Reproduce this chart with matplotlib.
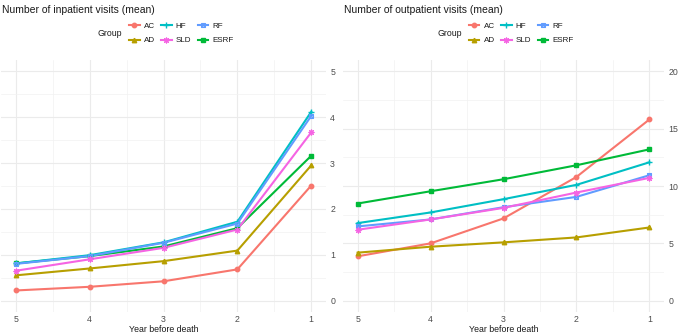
import numpy as np
import matplotlib
matplotlib.use("Agg")
import matplotlib.pyplot as plt
from matplotlib.lines import Line2D
from matplotlib.ticker import MultipleLocator

plt.rcParams['font.family'] = ['Liberation Sans', 'DejaVu Sans']

# data: years before death, mean visits per group
years = [5, 4, 3, 2, 1]
groups = ['AC', 'AD', 'ESRF', 'HF', 'RF', 'SLD']

inpatient = {
    'AC':   [0.22, 0.30, 0.42, 0.68, 2.51],
    'AD':   [0.55, 0.70, 0.86, 1.09, 2.95],
    'ESRF': [0.81, 0.97, 1.18, 1.58, 3.16],
    'HF':   [0.81, 0.99, 1.27, 1.72, 4.12],
    'RF':   [0.80, 0.97, 1.26, 1.68, 4.03],
    'SLD':  [0.65, 0.90, 1.15, 1.55, 3.67],
}
outpatient = {
    'AC':   [3.86, 4.99, 7.17, 10.79, 15.81],
    'AD':   [4.18, 4.70, 5.08, 5.51, 6.38],
    'ESRF': [8.47, 9.54, 10.59, 11.81, 13.20],
    'HF':   [6.76, 7.69, 8.85, 10.10, 12.07],
    'RF':   [6.47, 7.08, 8.15, 9.05, 10.94],
    'SLD':  [6.18, 7.08, 8.09, 9.43, 10.71],
}

# ggplot hue palette + default shapes
colors = {'AC': '#F8766D', 'AD': '#B79F00', 'ESRF': '#00BA38',
          'HF': '#00BFC4', 'RF': '#619CFF', 'SLD': '#F564E3'}
legend_order = ['AC', 'AD', 'HF', 'SLD', 'RF', 'ESRF']

W, H = 678, 334
fig = plt.figure(figsize=(W / 100, H / 100), dpi=100)


def px_axes(x0, x1, y0, y1):
    return fig.add_axes([x0 / W, (H - y1) / H, (x1 - x0) / W, (y1 - y0) / H])


def marker_style(g, col, ms=3.2):
    # list of marker kwargs to overlay for each ggplot shape
    if g == 'AC':
        return [dict(marker='o', ms=ms, mfc=col, mec=col)]
    if g == 'AD':
        return [dict(marker='^', ms=ms, mfc=col, mec=col)]
    if g == 'ESRF':
        return [dict(marker='s', ms=ms * 0.9, mfc=col, mec=col)]
    if g == 'HF':
        return [dict(marker='+', ms=ms * 1.4, mec=col, mew=1.0)]
    if g == 'RF':
        return [dict(marker='s', ms=ms, mfc='none', mec=col, mew=0.8),
                dict(marker='x', ms=ms * 0.9, mec=col, mew=0.8)]
    if g == 'SLD':
        return [dict(marker=(8, 2, 0), ms=ms * 1.3, mec=col, mew=0.8)]


def draw_panel(ax, data, ylim, ymajor, title, legend_x):
    ax.set_xlim(5.2, 0.8)
    ax.set_ylim(*ylim)
    ax.xaxis.set_major_locator(MultipleLocator(1))
    ax.xaxis.set_minor_locator(MultipleLocator(0.5))
    ax.yaxis.set_major_locator(MultipleLocator(ymajor))
    ax.yaxis.set_minor_locator(MultipleLocator(ymajor / 2))
    ax.grid(which='major', color='#EBEBEB', lw=0.8)
    ax.grid(which='minor', color='#F2F2F2', lw=0.5)
    ax.set_axisbelow(True)
    for s in ax.spines.values():
        s.set_visible(False)
    ax.yaxis.tick_right()
    ax.tick_params(which='both', length=0, labelsize=6.3, labelcolor='#4D4D4D')
    ax.tick_params(axis='y', pad=3)
    ax.tick_params(axis='x', pad=2.5)
    ax.set_xlabel('Year before death', fontsize=6.3, color='#1A1A1A', labelpad=0.5)

    for g in groups:
        col = colors[g]
        ax.plot(years, data[g], color=col, lw=1.5, zorder=3)
        for st in marker_style(g, col):
            ax.plot(years, data[g], ls='none', zorder=4, **st)

    fig.text(ax.get_position().x0 + 1 / W, 1 - 10 / H, title, fontsize=7.5,
             color='#1A1A1A', va='center', ha='left')

    fig.text(legend_x / W, 1 - 33 / H, 'Group', fontsize=6.3, color='#1A1A1A',
             va='center', ha='left')
    handles = []
    for g in legend_order:
        col = colors[g]
        parts = [Line2D([], [], color=col, lw=1.5)]
        for st in marker_style(g, col):
            parts.append(Line2D([], [], ls='none', **st))
        handles.append(tuple(parts))
    fig.legend(handles, legend_order, ncol=3, frameon=False, fontsize=5.8,
               loc='center left', bbox_to_anchor=((legend_x + 28) / W, 1 - 33.5 / H),
               handlelength=1.3, handletextpad=0.5, columnspacing=0.8,
               labelspacing=0.8, borderpad=0, labelcolor='#1A1A1A')


ax1 = px_axes(1, 326, 60, 312)
draw_panel(ax1, inpatient, (-0.25, 5.25), 1, 'Number of inpatient visits (mean)', 97)

ax2 = px_axes(343, 664, 60, 312)
draw_panel(ax2, outpatient, (-1, 21), 5, 'Number of outpatient visits (mean)', 437)

fig.savefig('out.png', dpi=100)
